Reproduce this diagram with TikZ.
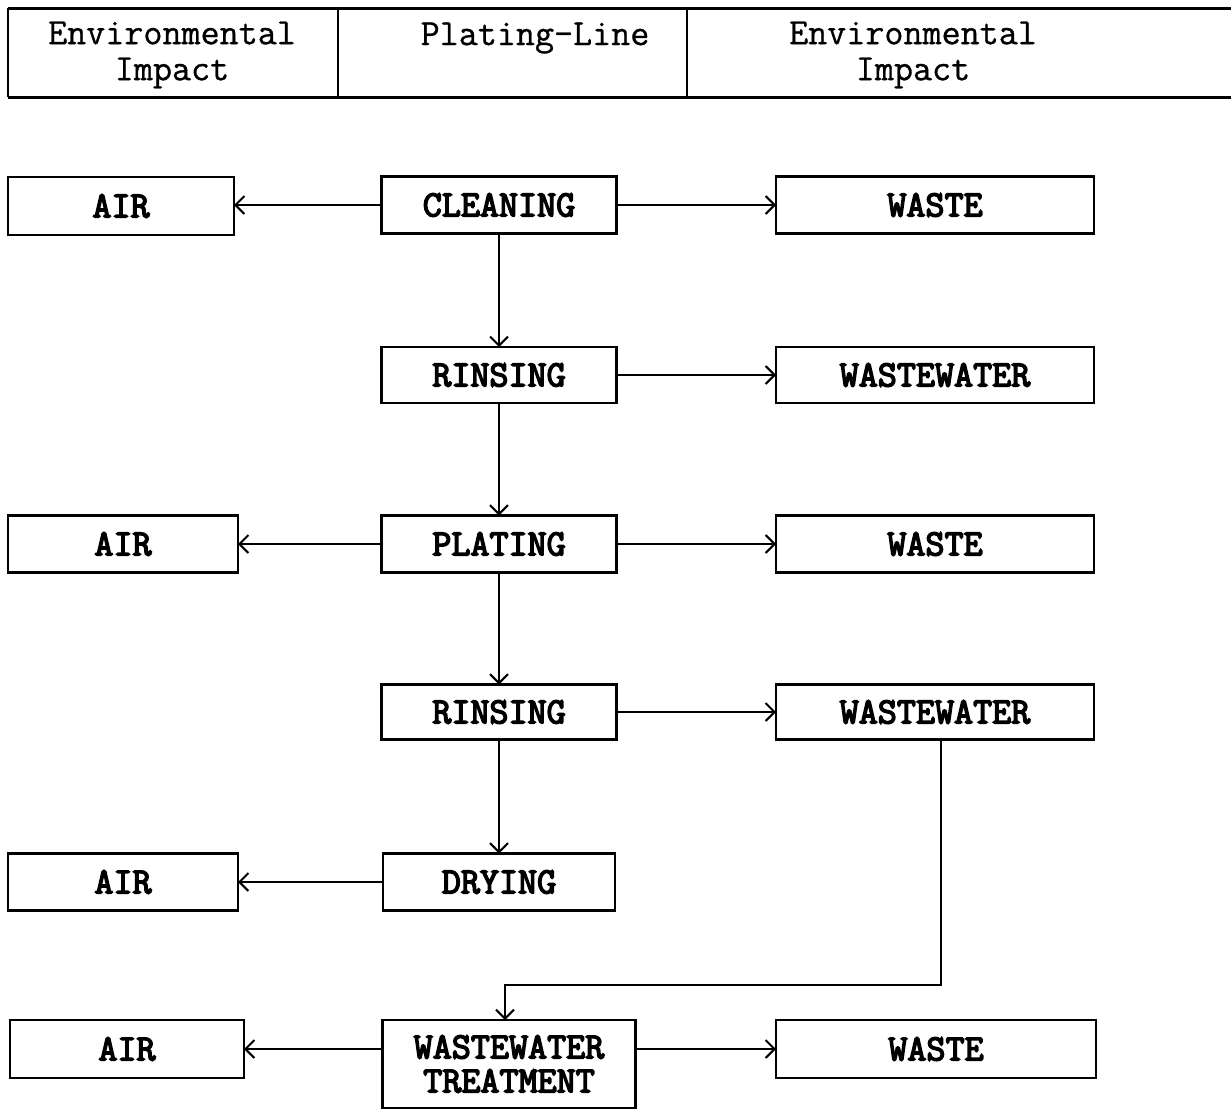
\documentclass[tikz,border=0pt]{standalone}
\usepackage{fontspec}
\newfontfamily\boldtt{Latin Modern Mono}[FakeBold=4]
\newfontfamily\regtt{Latin Modern Mono}[FakeBold=0.8]
\usetikzlibrary{arrows.meta}
\begin{document}
\begin{tikzpicture}[x=1pt,y=-1pt,
  box/.style={draw, line width=2.4pt, inner sep=0pt, outer sep=0pt, align=center,
    font=\fontsize{37}{34}\selectfont\boldtt},
  hdr/.style={inner sep=0pt, align=center, font=\fontsize{37}{36}\selectfont\regtt},
  arr/.style={line width=2pt, -{Straight Barb[length=9pt,width=18pt,line width=2pt]}},
  hline/.style={line width=3pt},
  vline/.style={line width=1.5pt}]
\useasboundingbox (0,0) rectangle (1231,1111);
% header
\draw[hline] (8,8) -- (1231,8);
\draw[hline] (8,97) -- (1231,97);
\draw[vline] (8,8) -- (8,97);
\draw[vline] (338,8) -- (338,97);
\draw[vline] (687,8) -- (687,97);
\node[hdr] (h1) at (172,55) {Environmental\\Impact};
\node[hdr] (h2) at (535,38) {Plating-Line};
\node[hdr] (h3) at (913,55) {Environmental\\Impact};
% boxes
\node[box, minimum width=226pt, minimum height=58pt] (air1) at (121,206) {AIR};
\node[box, minimum width=235pt, minimum height=57pt] (clean) at (499,205) {CLEANING};
\node[box, minimum width=318pt, minimum height=57pt] (waste1) at (935,205) {WASTE};
\node[box, minimum width=235pt, minimum height=56pt] (rins1) at (499,375) {RINSING};
\node[box, minimum width=318pt, minimum height=56pt] (ww1) at (935,375) {WASTEWATER};
\node[box, minimum width=230pt, minimum height=57pt] (air2) at (123,544) {AIR};
\node[box, minimum width=235pt, minimum height=57pt] (plat) at (499,544) {PLATING};
\node[box, minimum width=318pt, minimum height=57pt] (waste2) at (935,544) {WASTE};
\node[box, minimum width=235pt, minimum height=55pt] (rins2) at (499,712) {RINSING};
\node[box, minimum width=318pt, minimum height=55pt] (ww2) at (935,712) {WASTEWATER};
\node[box, minimum width=230pt, minimum height=57pt] (air3) at (123,882) {AIR};
\node[box, minimum width=232pt, minimum height=57pt] (dry) at (499,882) {DRYING};
\node[box, minimum width=234pt, minimum height=58pt] (air4) at (127,1049) {AIR};
\node[box, minimum width=253pt, minimum height=88pt] (treat) at (509,1064) {WASTEWATER\\TREATMENT};
\node[box, minimum width=320pt, minimum height=58pt] (waste4) at (936,1049) {WASTE};
% connectors
\draw[arr] (clean.west) -- (clean.west -| air1.east);
\draw[arr] (clean.east) -- (clean.east -| waste1.west);
\draw[arr] (clean.south) -- (rins1.north);
\draw[arr] (rins1.east) -- (rins1.east -| ww1.west);
\draw[arr] (rins1.south) -- (plat.north);
\draw[arr] (plat.west) -- (plat.west -| air2.east);
\draw[arr] (plat.east) -- (plat.east -| waste2.west);
\draw[arr] (plat.south) -- (rins2.north);
\draw[arr] (rins2.east) -- (rins2.east -| ww2.west);
\draw[arr] (rins2.south) -- (dry.north);
\draw[arr] (dry.west) -- (dry.west -| air3.east);
\coordinate (c1) at (941,985);
\coordinate (c2) at (505,985);
\draw[arr] (ww2.south -| c1) -- (c1) -- (c2) -- (treat.north -| c2);
\draw[arr] (air4.east -| treat.west) -- (air4.east);
\draw[arr] (waste4.west -| treat.east) -- (waste4.west);
\end{tikzpicture}
\end{document}
